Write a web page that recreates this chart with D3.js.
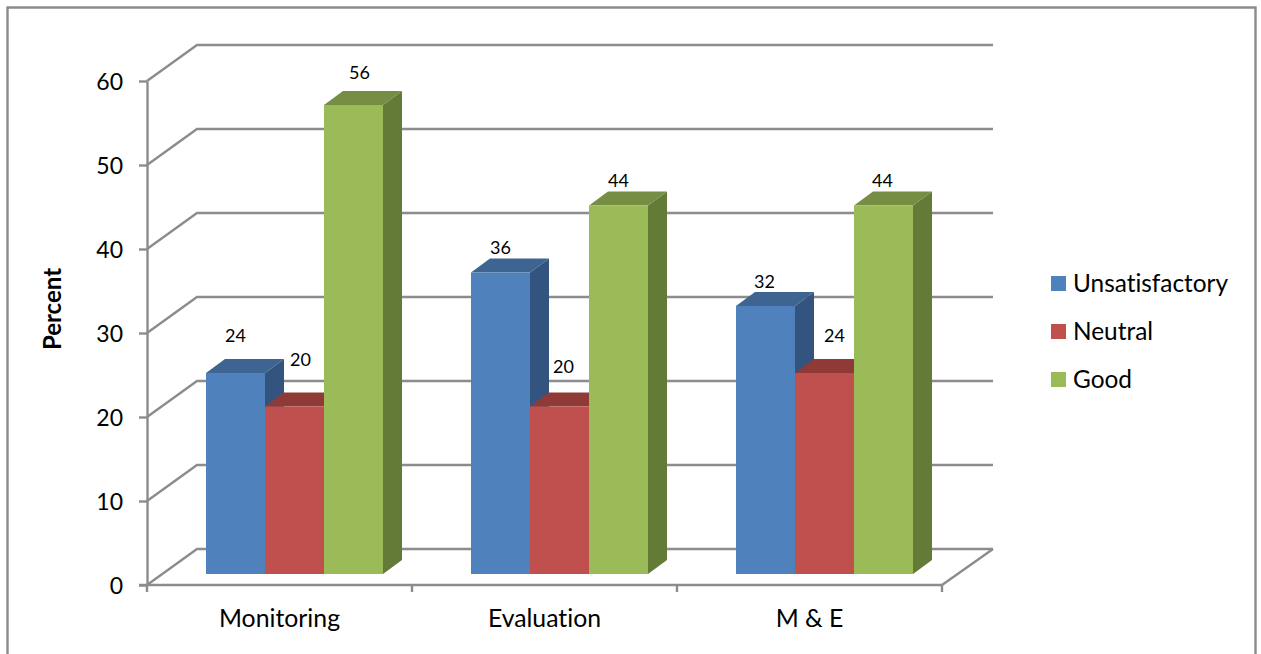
<!DOCTYPE html>
<html>
<head>
<meta charset="utf-8">
<script src="https://cdn.jsdelivr.net/npm/d3@7/dist/d3.min.js"></script>
<style>
  html, body { margin: 0; padding: 0; background: #fff; }
  svg { display: block; }
  text { font-family: Lato, "Open Sans", sans-serif; fill: #000; font-variant-ligatures: none; }
</style>
</head>
<body>
<svg id="chart" width="1261" height="654"></svg>
<script>
// Survey results, percent of respondents per rating
const categories = ["Monitoring", "Evaluation", "M & E"];
const seriesNames = ["Unsatisfactory", "Neutral", "Good"];
const unsatisfactory = [24, 36, 32];
const neutral = [20, 20, 24];
const good = [56, 44, 44];
const yTicks = [0, 10, 20, 30, 40, 50, 60];

const seriesValues = [unsatisfactory, neutral, good];
const palette = [
  { front: "#4f81bd", top: "#3e6492", side: "#33547e" },
  { front: "#c0504d", top: "#903a38", side: "#7f3230" },
  { front: "#9bbb59", top: "#768e44", side: "#647a37" }
];

// Value labels sit just clear of each column; some are pushed aside by hand
const labelShift = [
  [{ dx: 0, dy: -37 }, { dx: 6, dy: -47 }, { dx: 6, dy: -32 }],
  [{ dx: 0, dy: -25 }, { dx: 4, dy: -40 }, { dx: 0, dy: -25 }],
  [{ dx: -1, dy: -24 }, { dx: 10, dy: -37 }, { dx: -1, dy: -25 }]
];

const grey = "#8c8c8c";
const lineWidth = 2.4;
const svg = d3.select("#chart");

// Frame of the chart area; its lower edge runs off the page
svg.append("path")
  .attr("d", "M7.5,654V7.5H1255.5V654")
  .attr("fill", "none").attr("stroke", grey).attr("stroke-width", lineWidth);

// Front plane of the 3-D box
const y = d3.scaleLinear().domain([0, 60]).range([585, 81]);
const x = d3.scaleBand().domain(categories).range([147, 942]);
const inner = d3.scaleBand().domain(seriesNames).range([59, 236]);

// Columns stand a little deeper in the box, so their scale is slightly shorter
const yBar = d3.scaleLinear().domain([0, 60]).range([574, 71.5]);

// Depth of the box and of the columns
const wall = { dx: 50, dy: -36 };
const barDepth = { dx: 19, dy: -14 };

// Back wall gridlines with their slanted side-wall segments
const grid = svg.append("g").attr("fill", "none").attr("stroke", grey).attr("stroke-width", lineWidth);
grid.selectAll("path").data(yTicks).join("path")
  .attr("d", d => {
    const p = d3.path();
    p.moveTo(x.range()[0], y(d));
    p.lineTo(x.range()[0] + wall.dx, y(d) + wall.dy);
    p.lineTo(x.range()[1] + wall.dx + 1, y(d) + wall.dy);
    return p.toString();
  });
grid.append("line")
  .attr("x1", x.range()[1]).attr("y1", y(0))
  .attr("x2", x.range()[1] + wall.dx + 1).attr("y2", y(0) + wall.dy);

// Value axis
const yAxis = svg.append("g")
  .attr("transform", `translate(${x.range()[0]},0)`)
  .call(d3.axisLeft(y).tickValues(yTicks).tickSize(8).tickPadding(16).tickSizeOuter(0));
yAxis.selectAll("line,path").attr("stroke", grey).attr("stroke-width", lineWidth);
yAxis.selectAll("text")
  .attr("font-size", 23)
  .attr("dy", "0.37em")
  .style("font-family", "Lato, sans-serif")
  .attr("fill", "#000");

// Category axis: ticks fall between the groups
const xEdges = [...categories.map(c => x(c)), x.range()[1]];
svg.append("line")
  .attr("x1", x.range()[0] - 8).attr("x2", x.range()[1])
  .attr("y1", y(0)).attr("y2", y(0))
  .attr("stroke", grey).attr("stroke-width", lineWidth);
svg.append("g").selectAll("line").data(xEdges).join("line")
  .attr("x1", d => d).attr("x2", d => d)
  .attr("y1", y(0)).attr("y2", y(0) + 7)
  .attr("stroke", grey).attr("stroke-width", lineWidth);
svg.append("g").selectAll("text").data(categories).join("text")
  .attr("x", d => x(d) + x.bandwidth() / 2)
  .attr("y", 627)
  .attr("text-anchor", "middle")
  .attr("font-size", 24.8)
  .text(d => d);

// Flatten to one record per column
const bars = [];
categories.forEach((cat, c) => {
  seriesNames.forEach((name, s) => {
    bars.push({ c, s, cat, name, value: seriesValues[s][c] });
  });
});
const left = d => x(d.cat) + inner(d.name);
const right = d => left(d) + inner.bandwidth();
const topY = d => yBar(d.value);
const baseY = yBar(0);

// Painted sides, then tops, then fronts so neighbouring columns overlap correctly
const layers = svg.append("g");
layers.append("g").selectAll("polygon").data(bars).join("polygon")
  .attr("fill", d => palette[d.s].side)
  .attr("points", d => [
    [right(d), topY(d)],
    [right(d) + barDepth.dx, topY(d) + barDepth.dy],
    [right(d) + barDepth.dx, baseY + barDepth.dy],
    [right(d), baseY]
  ].join(" "));
layers.append("g").selectAll("polygon").data(bars).join("polygon")
  .attr("fill", d => palette[d.s].top)
  .attr("points", d => [
    [left(d), topY(d)],
    [left(d) + barDepth.dx, topY(d) + barDepth.dy],
    [right(d) + barDepth.dx, topY(d) + barDepth.dy],
    [right(d), topY(d)]
  ].join(" "));
layers.append("g").selectAll("rect").data(bars).join("rect")
  .attr("fill", d => palette[d.s].front)
  .attr("x", left)
  .attr("y", topY)
  .attr("width", inner.bandwidth())
  .attr("height", d => baseY - topY(d));

// Value labels
svg.append("g").selectAll("text").data(bars).join("text")
  .attr("x", d => left(d) + inner.bandwidth() / 2 + labelShift[d.c][d.s].dx)
  .attr("y", d => topY(d) + labelShift[d.c][d.s].dy + 6)
  .attr("text-anchor", "middle")
  .attr("font-size", 18)
  .text(d => d.value);

// Axis title
svg.append("text")
  .attr("transform", "translate(61,309) rotate(-90)")
  .attr("text-anchor", "middle")
  .attr("font-size", 24)
  .attr("font-weight", 700)
  .text("Percent");

// Legend
const legendY = d3.scalePoint().domain(seriesNames).range([283.5, 379.5]);
const legend = svg.append("g").selectAll("g").data(seriesNames).join("g")
  .attr("transform", d => `translate(1051,${legendY(d)})`);
legend.append("rect")
  .attr("y", -7.5).attr("width", 15).attr("height", 15)
  .attr("fill", (d, i) => palette[i].front);
legend.append("text")
  .attr("x", 22).attr("y", 8)
  .attr("font-size", 24.4)
  .text(d => d);
</script>
</body>
</html>
